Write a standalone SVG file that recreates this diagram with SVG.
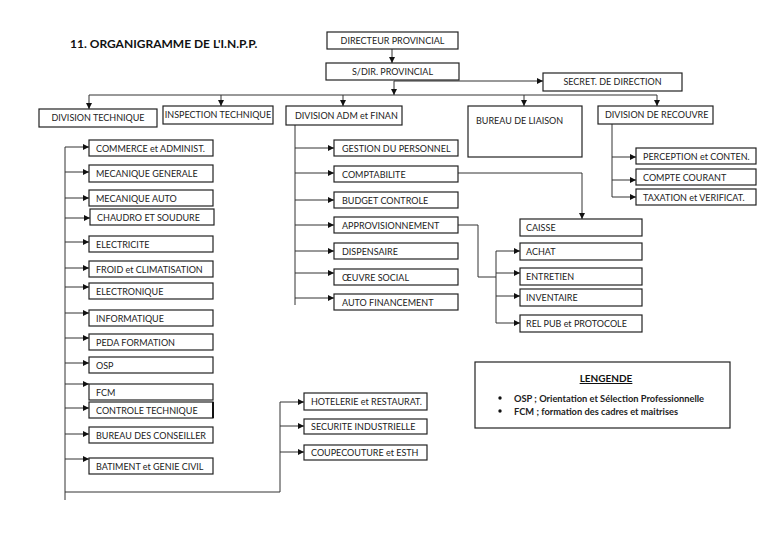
<svg xmlns="http://www.w3.org/2000/svg" width="768" height="543" viewBox="0 0 768 543">
<defs>
<marker id="ah" markerUnits="userSpaceOnUse" markerWidth="6" markerHeight="6" refX="6" refY="3" orient="auto">
<path d="M0,0 L6,3 L0,6 z" fill="#111"/>
</marker>
<style>
.b{fill:#fff;stroke:#222;stroke-width:1.2}
.t{font-family:Lato,"Open Sans","Liberation Sans",sans-serif;font-size:9px;fill:#222}
.c{fill:none;stroke:#333;stroke-width:1}
.a{fill:none;stroke:#333;stroke-width:1;marker-end:url(#ah)}
.lg{font-family:Lato,"Liberation Sans",sans-serif;font-size:9.3px;font-weight:bold;fill:#222}
</style>
</defs>
<rect width="768" height="543" fill="#fff"/>
<text x="70" y="48" style="font-family:Lato,'Liberation Sans',sans-serif;font-size:12px;font-weight:bold;fill:#111">11. ORGANIGRAMME DE L'I.N.P.P.</text>

<g id="connectors">
<path class="a" d="M392,49 V63"/>
<path class="c" d="M394,81 H540"/>
<path class="a" d="M540,81 H543"/>
<path class="a" d="M394,81 V95"/>
<path class="c" d="M89,95 H657"/>
<path class="a" d="M89,95 V109"/>
<path class="a" d="M221,95 V106"/>
<path class="a" d="M343,95 V106"/>
<path class="a" d="M524,95 V106"/>
<path class="a" d="M657,95 V106"/>
<path class="c" d="M65,147 V500"/>
<path class="a" d="M65,147 H89"/>
<path class="a" d="M65,172 H89"/>
<path class="a" d="M65,198 H89"/>
<path class="a" d="M65,218 H90"/>
<path class="a" d="M65,242 H89"/>
<path class="a" d="M65,268 H89"/>
<path class="a" d="M65,287 H89"/>
<path class="a" d="M65,313 H89"/>
<path class="a" d="M65,338 H89"/>
<path class="a" d="M65,363 H89"/>
<path class="a" d="M65,384 H89"/>
<path class="a" d="M65,408 H89"/>
<path class="a" d="M65,434 H89"/>
<path class="a" d="M65,459 H89"/>
<path class="c" d="M65,492 H280 V402"/>
<path class="a" d="M280,402 H304"/>
<path class="a" d="M280,426 H304"/>
<path class="a" d="M280,452 H304"/>
<path class="c" d="M295,125 V305"/>
<path class="a" d="M295,148 H334"/>
<path class="a" d="M295,173 H334"/>
<path class="a" d="M295,200 H334"/>
<path class="a" d="M295,225 H334"/>
<path class="a" d="M295,251 H334"/>
<path class="a" d="M295,273 H334"/>
<path class="a" d="M295,298 H334"/>
<path class="a" d="M458,173 H582 V219"/>
<path class="c" d="M458,225 H478 V277 H496"/>
<path class="c" d="M496,251 V323"/>
<path class="a" d="M496,251 H520"/>
<path class="a" d="M496,273 H520"/>
<path class="a" d="M496,296 H520"/>
<path class="a" d="M496,323 H520"/>
<path class="c" d="M612,124 V197"/>
<path class="a" d="M612,157 H636"/>
<path class="a" d="M612,180 H636"/>
<path class="a" d="M612,197 H636"/>
</g>

<g id="dir"><rect class="b" x="327" y="32" width="131" height="17"/><text class="t" x="392.5" y="43.5" text-anchor="middle">DIRECTEUR PROVINCIAL</text></g>
<g id="sdir"><rect class="b" x="326" y="63" width="133" height="17"/><text class="t" x="392.5" y="74.5" text-anchor="middle">S/DIR. PROVINCIAL</text></g>
<g id="secret"><rect class="b" x="543" y="73" width="139" height="18"/><text class="t" x="612.5" y="85" text-anchor="middle">SECRET. DE DIRECTION</text></g>
<g id="divtech"><rect class="b" x="39" y="109" width="118" height="18"/><text class="t" x="98" y="121" text-anchor="middle">DIVISION TECHNIQUE</text></g>
<g id="insp"><rect class="b" x="163" y="106" width="110" height="18"/><text class="t" x="218" y="118" text-anchor="middle">INSPECTION TECHNIQUE</text></g>
<g id="divadm"><rect class="b" x="286" y="106" width="116" height="19"/><text class="t" x="295" y="119">DIVISION ADM et FINAN</text></g>
<g id="bureau"><rect class="b" x="468" y="106" width="114" height="51"/><text class="t" x="476" y="124">BUREAU DE LIAISON</text></g>
<g id="recouvre"><rect class="b" x="598" y="106" width="115" height="18"/><text class="t" x="605" y="118">DIVISION DE RECOUVRE</text></g>

<g id="commerce"><rect class="b" x="89" y="140" width="124" height="16"/><text class="t" x="96" y="151.5">COMMERCE et ADMINIST.</text></g>
<g id="mecgen"><rect class="b" x="89" y="165" width="124" height="17"/><text class="t" x="96" y="177">MECANIQUE GENERALE</text></g>
<g id="mecauto"><rect class="b" x="89" y="190" width="124" height="16"/><text class="t" x="96" y="202">MECANIQUE AUTO</text></g>
<g id="chaudro"><rect class="b" x="90" y="209" width="124" height="16"/><text class="t" x="97" y="221">CHAUDRO ET SOUDURE</text></g>
<g id="electricite"><rect class="b" x="89" y="236" width="124" height="16"/><text class="t" x="96" y="247.5">ELECTRICITE</text></g>
<g id="froid"><rect class="b" x="89" y="261" width="124" height="16"/><text class="t" x="96" y="272.5">FROID et CLIMATISATION</text></g>
<g id="electronique"><rect class="b" x="89" y="283" width="124" height="16"/><text class="t" x="96" y="294.5">ELECTRONIQUE</text></g>
<g id="informatique"><rect class="b" x="89" y="310" width="124" height="16"/><text class="t" x="96" y="321.5">INFORMATIQUE</text></g>
<g id="peda"><rect class="b" x="89" y="334" width="124" height="16"/><text class="t" x="96" y="345.5">PEDA FORMATION</text></g>
<g id="osp"><rect class="b" x="89" y="357" width="124" height="16"/><text class="t" x="96" y="368.5">OSP</text></g>
<g id="fcm"><rect class="b" x="89" y="384" width="124" height="16"/><text class="t" x="96" y="395.5">FCM</text></g>
<g id="controle"><rect class="b" x="89" y="402" width="124" height="16"/><path d="M213,402 V418" stroke="#111" stroke-width="2"/><text class="t" x="96" y="413.5">CONTROLE TECHNIQUE</text></g>
<g id="conseiller"><rect class="b" x="89" y="427" width="124" height="16"/><text class="t" x="96" y="438.5">BUREAU DES CONSEILLER</text></g>
<g id="batiment"><rect class="b" x="89" y="458" width="124" height="16"/><text class="t" x="96" y="469.5">BATIMENT et GENIE CIVIL</text></g>

<g id="hotelerie"><rect class="b" x="304" y="393" width="123" height="17"/><text class="t" x="311" y="405">HOTELERIE et RESTAURAT.</text></g>
<g id="securite"><rect class="b" x="304" y="419" width="123" height="15"/><text class="t" x="311" y="430">SECURITE INDUSTRIELLE</text></g>
<g id="coupe"><rect class="b" x="304" y="445" width="123" height="15"/><text class="t" x="311" y="456">COUPECOUTURE et ESTH</text></g>

<g id="gestion"><rect class="b" x="334" y="140" width="124" height="16"/><text class="t" x="342" y="151.5">GESTION DU PERSONNEL</text></g>
<g id="compta"><rect class="b" x="334" y="166" width="124" height="16"/><text class="t" x="342" y="177.5">COMPTABILITE</text></g>
<g id="budget"><rect class="b" x="334" y="192" width="124" height="16"/><text class="t" x="342" y="203.5">BUDGET CONTROLE</text></g>
<g id="appro"><rect class="b" x="334" y="217" width="124" height="16"/><text class="t" x="342" y="228.5">APPROVISIONNEMENT</text></g>
<g id="dispensaire"><rect class="b" x="334" y="243" width="124" height="16"/><text class="t" x="342" y="254.5">DISPENSAIRE</text></g>
<g id="oeuvre"><rect class="b" x="334" y="269" width="124" height="16"/><text class="t" x="342" y="280.5">ŒUVRE SOCIAL</text></g>
<g id="autofin"><rect class="b" x="334" y="294" width="124" height="16"/><text class="t" x="342" y="305.5">AUTO FINANCEMENT</text></g>

<g id="caisse"><rect class="b" x="520" y="219" width="122" height="17"/><text class="t" x="526" y="231">CAISSE</text></g>
<g id="achat"><rect class="b" x="520" y="243" width="122" height="17"/><text class="t" x="526" y="255">ACHAT</text></g>
<g id="entretien"><rect class="b" x="520" y="268" width="122" height="17"/><text class="t" x="526" y="280">ENTRETIEN</text></g>
<g id="inventaire"><rect class="b" x="520" y="289" width="122" height="17"/><text class="t" x="526" y="301">INVENTAIRE</text></g>
<g id="relpub"><rect class="b" x="520" y="315" width="122" height="17"/><text class="t" x="526" y="327">REL PUB et PROTOCOLE</text></g>

<g id="perception"><rect class="b" x="636" y="148" width="120" height="16"/><text class="t" x="643" y="159.5">PERCEPTION et CONTEN.</text></g>
<g id="compte"><rect class="b" x="636" y="169" width="120" height="16"/><text class="t" x="643" y="180.5">COMPTE COURANT</text></g>
<g id="taxation"><rect class="b" x="636" y="189" width="120" height="16"/><text class="t" x="643" y="200.5">TAXATION et VERIFICAT.</text></g>

<g id="legende">
<rect class="b" x="475" y="362" width="255" height="66"/>
<text x="606" y="382" text-anchor="middle" text-decoration="underline" style="font-family:Lato,'Liberation Sans',sans-serif;font-size:10px;font-weight:bold;fill:#111">LENGENDE</text>
<circle cx="500" cy="398" r="1.7" fill="#111"/>
<circle cx="500" cy="411" r="1.7" fill="#111"/>
<text class="lg" x="514" y="401.5">OSP ; Orientation et Sélection Professionnelle</text>
<text class="lg" x="514" y="414.5">FCM ; formation des cadres et maitrises</text>
</g>
</svg>
